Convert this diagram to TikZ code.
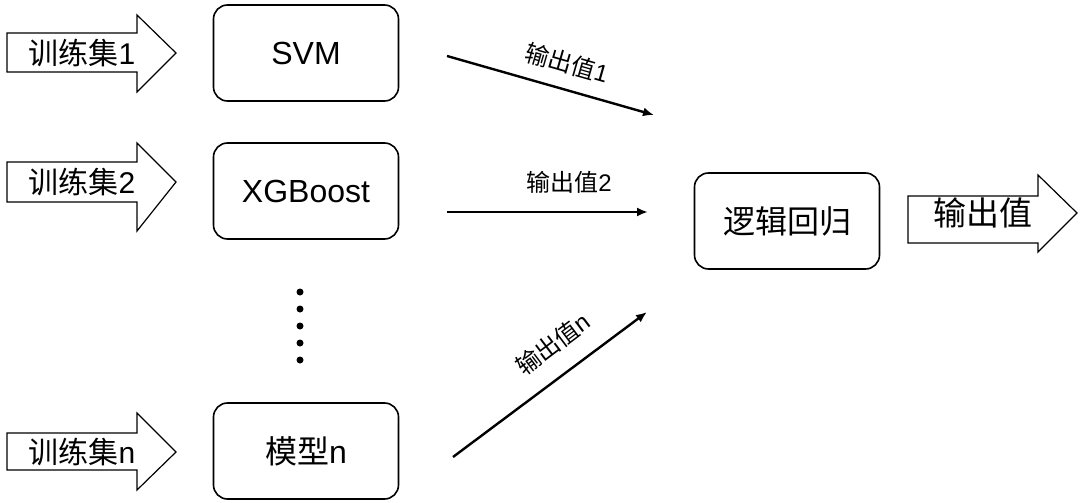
\documentclass[tikz,border=0pt]{standalone}
\usepackage{fontspec}
\setmainfont{Liberation Sans}
\newfontfamily\cjk{Noto Sans CJK SC}
\usetikzlibrary{arrows.meta}
\begin{document}
\begin{tikzpicture}[x=1pt,y=1pt,
  model/.style={draw,line width=1.6pt,rounded corners=14pt,minimum width=185pt,minimum height=96pt,font=\fontsize{32}{34}\selectfont},
  blockarrow/.style={draw,line width=1.2pt,fill=white},
  arrtext/.style={font=\fontsize{30}{32}\selectfont,inner sep=0pt},
  conn/.style={line width=2.4pt,-{Latex[length=11pt,width=9pt]}},
  lab/.style={font=\fontsize{24}{26}\selectfont,inner sep=0pt},
  dotstyle/.style={circle,fill=black,inner sep=0pt,minimum size=7pt}]
\useasboundingbox (0,0) rectangle (1080,-503);

% input block arrows
\foreach \n/\yt/\yb/\ht/\hb/\ty in {1/33/72/15/92/53, 2/162/202/143/231/182, n/433/470/413/490/452}{
  \draw[blockarrow] (7,-\yt) -- (137,-\yt) -- (137,-\ht) -- (176,-\ty) -- (137,-\hb) -- (137,-\yb) -- (7,-\yb) -- cycle;
}
\node[arrtext] (in1) at (82,-53) {{\cjk 训练集}1};
\node[arrtext] (in2) at (82,-182) {{\cjk 训练集}2};
\node[arrtext] (inn) at (82,-452) {{\cjk 训练集}n};

% models
\node[model] (svm) at (306,-53) {SVM};
\node[model] (xgb) at (306,-191) {XGBoost};
\node[model] (modn) at (306,-451) {{\cjk 模型}n};

% dots
\foreach \k/\yy in {1/292,2/309,3/326,4/343,5/360}{
  \node[dotstyle] (d\k) at (300,-\yy) {};
}

% logistic regression
\node[model] (lr) at (787,-221) {{\cjk 逻辑回归}};

% output block arrow
\draw[blockarrow] (908,-196) -- (1038,-196) -- (1038,-175) -- (1077,-213) -- (1038,-252) -- (1038,-243) -- (908,-243) -- cycle;
\node[arrtext,font=\fontsize{33}{35}\selectfont] (out) at (983,-213) {\cjk 输出值};

% connectors
\coordinate (s1) at (447,-56);
\coordinate (e1) at (654,-115);
\coordinate (s2) at (447,-212);
\coordinate (e2) at (648,-212);
\coordinate (sn) at (453,-457);
\coordinate (en) at (647,-312);
\draw[conn] (s1) -- (e1);
\draw[conn] (s2) -- (e2);
\draw[conn] (sn) -- (en);

\node[lab,rotate=-16] (l1) at (567,-63) {{\cjk 输出值}1};
\node[lab] (l2) at (569,-182) {{\cjk 输出值}2};
\node[lab,rotate=37] (ln) at (553,-344) {{\cjk 输出值}n};
\end{tikzpicture}
\end{document}
